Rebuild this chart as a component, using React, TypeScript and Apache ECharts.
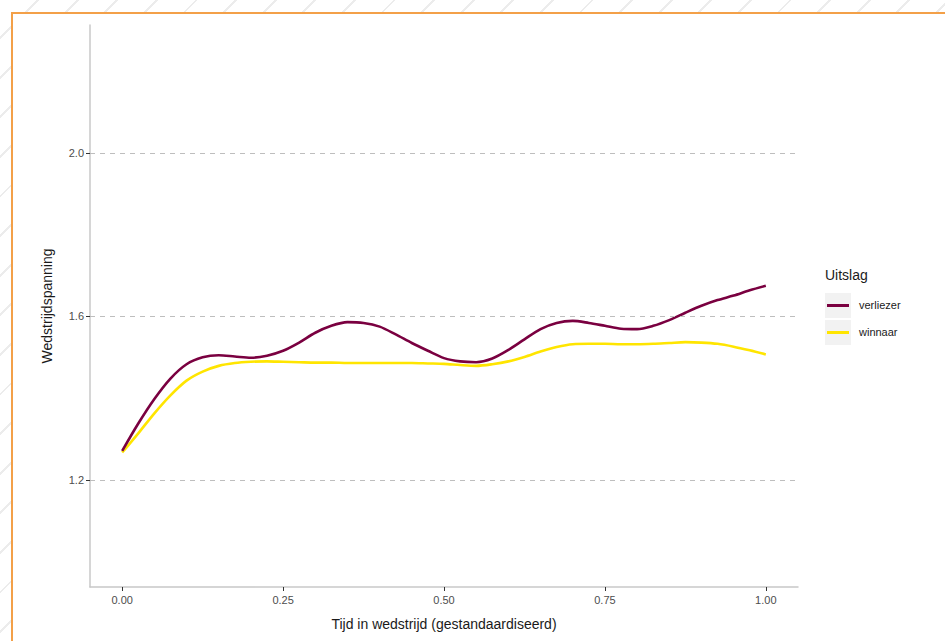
import React, { useEffect, useRef } from "react";
import * as echarts from "echarts";

const timeValues = [
  0, 0.025, 0.05, 0.075, 0.1, 0.125, 0.15, 0.175, 0.2, 0.225,
  0.25, 0.275, 0.3, 0.325, 0.35, 0.375, 0.4, 0.425, 0.45, 0.475,
  0.5, 0.525, 0.55, 0.575, 0.6, 0.625, 0.65, 0.675, 0.7, 0.725,
  0.75, 0.775, 0.8, 0.825, 0.85, 0.875, 0.9, 0.925, 0.95, 0.975, 1.0,
];
const verliezerValues = [
  1.271, 1.338, 1.398, 1.448, 1.483, 1.5, 1.505, 1.502, 1.499, 1.504,
  1.516, 1.536, 1.56, 1.577, 1.586, 1.584, 1.575, 1.556, 1.535, 1.516,
  1.498, 1.49, 1.488, 1.497, 1.518, 1.544, 1.569, 1.584, 1.589, 1.584,
  1.577, 1.57, 1.569, 1.577, 1.591, 1.609, 1.626, 1.64, 1.651, 1.664, 1.675,
];
const winnaarValues = [
  1.267, 1.314, 1.363, 1.407, 1.443, 1.465, 1.479, 1.486, 1.489, 1.49,
  1.489, 1.488, 1.487, 1.487, 1.486, 1.486, 1.486, 1.486, 1.486, 1.485,
  1.484, 1.481, 1.479, 1.483, 1.49, 1.501, 1.514, 1.525, 1.532, 1.533,
  1.533, 1.532, 1.532, 1.533, 1.535, 1.537, 1.536, 1.533, 1.526, 1.517, 1.507,
];
const xTicks = [0, 0.25, 0.5, 0.75, 1.0];
const yTicks = [1.2, 1.6, 2.0];
const seriesNames = ["verliezer", "winnaar"];
const seriesColors = ["#7A0040", "#FFE500"];

const FONT = "'Liberation Sans', Arial, Helvetica, sans-serif";

export default function App() {
  const ref = useRef<HTMLDivElement>(null);

  useEffect(() => {
    if (!ref.current) return;
    const chart = echarts.init(ref.current, null, { renderer: "svg" });
    const toPairs = (vals: number[]) => timeValues.map((t, i) => [t, vals[i]]);

    const legendGraphic: any[] = [
      {
        type: "text",
        left: 825,
        top: 268,
        style: { text: "Uitslag", fontSize: 14, fontFamily: FONT, fill: "#1a1a1a" },
      },
    ];
    seriesNames.forEach((name, i) => {
      const y0 = 293 + i * 27;
      legendGraphic.push({
        type: "rect",
        shape: { x: 825, y: y0, width: 26, height: 25 },
        style: { fill: "#F2F2F2" },
      });
      legendGraphic.push({
        type: "line",
        shape: { x1: 827, y1: y0 + 12.5, x2: 849, y2: y0 + 12.5 },
        style: { stroke: seriesColors[i], lineWidth: 3 },
      });
      legendGraphic.push({
        type: "text",
        left: 859,
        top: y0 + 6,
        style: { text: name, fontSize: 11, fontFamily: FONT, fill: "#1a1a1a" },
      });
    });

    chart.setOption({
      animation: false,
      backgroundColor: "transparent",
      textStyle: { fontFamily: FONT },
      grid: { left: 90, right: 147, top: 25, bottom: 54, containLabel: false },
      xAxis: {
        type: "value",
        min: -0.05,
        max: 1.05,
        name: "Tijd in wedstrijd (gestandaardiseerd)",
        nameLocation: "middle",
        nameGap: 30,
        nameTextStyle: { fontSize: 14, color: "#1a1a1a", fontFamily: FONT },
        axisLine: { show: true, onZero: false, lineStyle: { color: "#C8C8C8", width: 1.5 } },
        axisTick: { show: true, length: 4, customValues: xTicks, lineStyle: { color: "#333333", width: 1 } },
        axisLabel: {
          customValues: xTicks,
          formatter: (v: number) => v.toFixed(2),
          fontSize: 11,
          color: "#4d4d4d",
          margin: 7,
          fontFamily: FONT,
        },
        splitLine: { show: false },
      },
      yAxis: {
        type: "value",
        min: 0.938,
        max: 2.313,
        name: "Wedstrijdspanning",
        nameLocation: "middle",
        nameGap: 36,
        nameTextStyle: { fontSize: 14, color: "#1a1a1a", fontFamily: FONT },
        axisLine: { show: true, onZero: false, lineStyle: { color: "#C8C8C8", width: 1.5 } },
        axisTick: { show: true, length: 4, customValues: yTicks, lineStyle: { color: "#333333", width: 1 } },
        axisLabel: {
          customValues: yTicks,
          formatter: (v: number) => v.toFixed(1),
          fontSize: 11,
          color: "#4d4d4d",
          margin: 6,
          fontFamily: FONT,
        },
        splitLine: { show: false },
      },
      graphic: legendGraphic,
      series: [
        {
          name: "gridlines",
          type: "line",
          data: [],
          silent: true,
          markLine: {
            silent: true,
            symbol: "none",
            label: { show: false },
            lineStyle: { color: "#BEBEBE", type: [5, 5], width: 1 },
            data: yTicks.map((v) => ({ yAxis: v })),
          },
        },
        ...seriesNames.map((name, i) => ({
          name,
          type: "line",
          data: toPairs(i === 0 ? verliezerValues : winnaarValues),
          smooth: 0.3,
          showSymbol: false,
          symbol: "none",
          lineStyle: { color: seriesColors[i], width: 2.6 },
          z: 3 - i,
        })),
      ],
    });
    return () => chart.dispose();
  }, []);

  return (
    <div
      style={{
        position: "fixed",
        left: 0,
        top: 0,
        width: 945,
        height: 641,
        overflow: "hidden",
        background: "repeating-linear-gradient(135deg, #ffffff 0px, #ffffff 26px, #ececec 26px, #ececec 28px)",
      }}
    >
      <div
        style={{
          position: "absolute",
          left: 11,
          top: 12,
          width: 960,
          height: 660,
          background: "#ffffff",
          border: "2px solid #F3A048",
          boxSizing: "border-box",
        }}
      />
      <div ref={ref} style={{ position: "absolute", left: 0, top: 0, width: 945, height: 641 }} />
    </div>
  );
}
